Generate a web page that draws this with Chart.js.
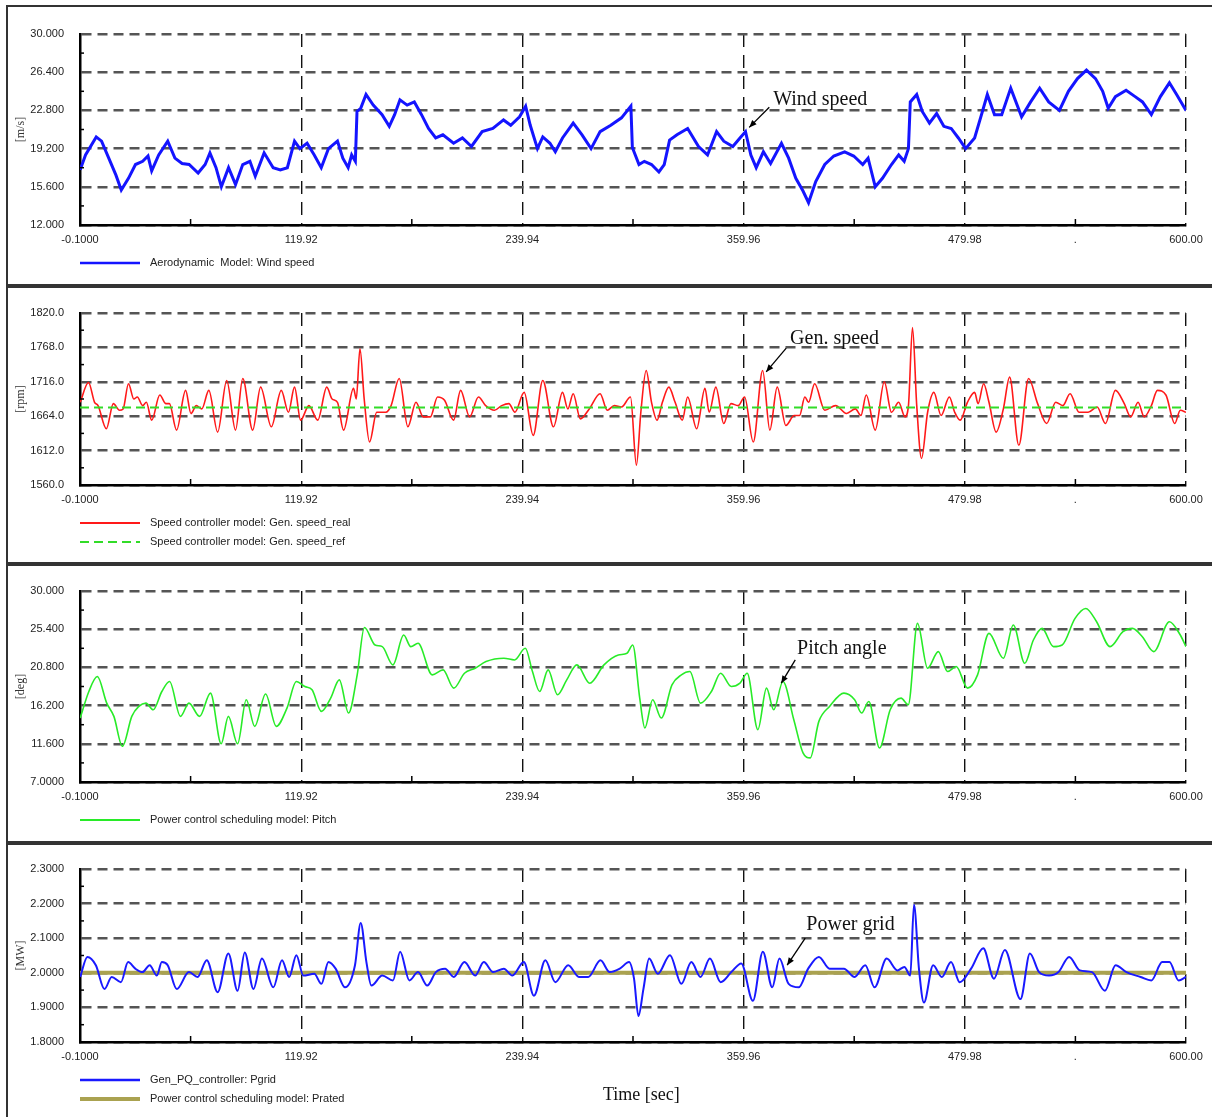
<!DOCTYPE html>
<html>
<head>
<meta charset="utf-8">
<title>Wind turbine simulation results</title>
<script src="https://cdn.jsdelivr.net/npm/chart.js@4.4.1/dist/chart.umd.min.js"></script>
<style>
    body { margin: 0; background: #fff; width: 1212px; height: 1117px; overflow: hidden; position: relative; }
    .panel { position: absolute; left: 6px; width: 1212px; border: 2px solid #333; box-sizing: border-box; }
    canvas { position: absolute; left: 0; }
    #timeLabel { position: absolute; left: 603px; top: 1084px; font: 18px 'Liberation Serif', 'Times New Roman', serif; color: #111; }
</style>
</head>
<body>
<div class="panel" style="top:5px;height:281px"></div>
<div class="panel" style="top:286px;height:278px"></div>
<div class="panel" style="top:564px;height:279px"></div>
<div class="panel" style="top:843px;height:280px"></div>

<canvas id="ChartWind" width="1212" height="285" style="top:0px"></canvas>
<canvas id="ChartGen" width="1212" height="276" style="top:287px"></canvas>
<canvas id="ChartPitch" width="1212" height="276" style="top:566px"></canvas>
<canvas id="ChartPower" width="1212" height="272" style="top:845px"></canvas>
<div id="timeLabel">Time [sec]</div>

<script>
// ---- data ----
const xTickValues = [-0.1, 119.92, 239.94, 359.96, 479.98, 539.99, 600];
const xTickLabels = ['-0.1000', '119.92', '239.94', '359.96', '479.98', '.', '600.00'];
const xMinorTicks = [59.91, 179.93, 299.95, 419.97, 539.99];

const windTicks = [12, 15.6, 19.2, 22.8, 26.4, 30];
const windTickLabels = ['12.000', '15.600', '19.200', '22.800', '26.400', '30.000'];
const genTicks = [1560, 1612, 1664, 1716, 1768, 1820];
const genTickLabels = ['1560.0', '1612.0', '1664.0', '1716.0', '1768.0', '1820.0'];
const pitchTicks = [7, 11.6, 16.2, 20.8, 25.4, 30];
const pitchTickLabels = ['7.0000', '11.600', '16.200', '20.800', '25.400', '30.000'];
const powerTicks = [1.8, 1.9, 2.0, 2.1, 2.2, 2.3];
const powerTickLabels = ['1.8000', '1.9000', '2.0000', '2.1000', '2.2000', '2.3000'];

const windTime = [
    0, 2.9, 8.7, 11.6, 15.5, 19.4, 22.3, 26.2, 30, 33.9,
    36.8, 38.8, 42.6, 47.5, 51.4, 55.3, 59.1, 64, 67.8, 70.4,
    73.7, 76.6, 80.5, 84.3, 88.2, 92.1, 95, 99.8, 104.7, 108.6,
    112.4, 116.3, 119.2, 123.1, 127, 130.8, 134.7, 139.6, 142.5, 145.4,
    147.3, 149.3, 150.2, 152.2, 155.1, 159, 163.8, 167.7, 170.6, 173.5,
    177.4, 181.3, 185.2, 189, 192.9, 196.8, 202.6, 207.4, 212.3, 218.1,
    223.9, 229.7, 233.6, 238.4, 241.7, 244.2, 248.1, 251, 254.9, 257.8,
    261.7, 267.5, 272.3, 277.2, 282.1, 287.9, 293.7, 298.8, 299.6, 303.2,
    306.1, 310, 314, 316.9, 319.8, 323.8, 329.6, 335.5, 340.4, 345.3,
    349.2, 354.1, 358, 361, 363.9, 366.8, 370.7, 374.6, 380.5, 384.4,
    388.3, 392.2, 395.2, 399.1, 404, 408.9, 414.8, 419.7, 424.6, 427.5,
    431.4, 435.3, 440.2, 444.1, 447.1, 449.4, 450.4, 453.9, 456.9, 460.8,
    464.7, 468.6, 472.6, 476.5, 480.4, 485.3, 489.2, 492.2, 496.1, 500,
    504.9, 510.8, 515.7, 520.6, 525.5, 531.3, 536.2, 541.1, 546, 550.9,
    554.8, 557.8, 561.7, 567.5, 572.4, 576.4, 581.2, 586.1, 591, 594.9,
    600
];
const windSpeed = [
    17.2, 18.6, 20.3, 19.9, 18.3, 16.7, 15.3, 16.4, 17.7, 18.0,
    18.5, 17.1, 18.6, 19.9, 18.3, 17.8, 17.7, 16.9, 17.7, 18.8,
    17.4, 15.6, 17.4, 15.8, 17.7, 18.0, 16.6, 18.8, 17.4, 17.2,
    17.4, 19.9, 19.2, 19.7, 18.6, 17.4, 19.2, 19.9, 18.3, 17.4,
    18.6, 18.0, 22.7, 23.0, 24.3, 23.3, 22.4, 21.3, 22.4, 23.8,
    23.3, 23.6, 22.4, 21.1, 20.2, 20.5, 19.7, 20.2, 19.4, 20.8,
    21.1, 21.9, 21.4, 22.2, 23.2, 21.4, 19.2, 20.3, 19.7, 18.9,
    20.2, 21.6, 20.5, 19.2, 20.8, 21.4, 22.1, 23.2, 19.3, 17.7,
    18.0, 17.7, 17.0, 17.7, 20.0, 20.5, 21.1, 19.4, 18.6, 20.8,
    19.9, 19.4, 20.2, 20.8, 18.6, 17.4, 18.9, 17.8, 19.7, 18.3,
    16.4, 15.2, 14.1, 16.1, 17.7, 18.5, 18.9, 18.5, 17.7, 18.3,
    15.6, 16.4, 17.7, 18.6, 18.0, 19.2, 23.6, 24.3, 22.7, 21.6,
    22.5, 21.3, 21.1, 20.2, 19.2, 20.2, 22.5, 24.3, 22.4, 22.4,
    24.9, 22.2, 23.6, 24.9, 23.6, 22.8, 24.6, 25.8, 26.6, 25.8,
    24.6, 23.0, 24.1, 24.7, 24.1, 23.6, 22.4, 24.1, 25.4, 24.3,
    22.8
];

const genTime = [
    0, 4.5, 7.8, 9.7, 14.2, 18, 21.3, 23.3, 26.2, 29.1,
    31, 33.9, 35.9, 38.8, 43.2, 46.5, 48.4, 52.3, 57.2, 60.1,
    63, 66, 69.8, 74.6, 79.5, 84.3, 88.2, 93.6, 97.9, 103.7,
    109.1, 113, 116.3, 119.6, 124.1, 128.9, 133.8, 136.7, 139.6, 142.9,
    148.3, 149.8, 151.8, 154.1, 157, 160.9, 165.8, 168.7, 173.1, 177.8,
    182.2, 186.1, 190, 193.9, 197.7, 202.6, 206.4, 211.3, 216.1, 220,
    224.8, 228.7, 232.6, 235.9, 240.9, 245.8, 251, 256.8, 261.7, 264.6,
    267.5, 271.4, 276.2, 282.1, 286, 289.8, 293.7, 298.6, 301.8, 304.2,
    307.1, 310, 313, 315.9, 319.4, 322.8, 326.7, 329.6, 334.5, 339,
    341.3, 344.9, 349.2, 353.1, 357, 360.5, 365.2, 370.3, 374.2, 378.2,
    382.9, 387.4, 390.3, 393.2, 395.2, 398.5, 404, 409.9, 415.8, 420.6,
    423.6, 426.5, 431.4, 436.3, 440.2, 444.1, 447.5, 449.4, 451.6, 453.9,
    456.5, 459.8, 463.2, 467.1, 471.6, 474.5, 477.5, 481.4, 485.3, 487.2,
    490.2, 493.1, 497, 500.9, 504.3, 509.3, 514.6, 519.5, 524.4, 529.3,
    533.2, 537.1, 542, 546.9, 551.8, 556.3, 561.7, 566.5, 570, 574,
    577.3, 581.2, 584.5, 589.1, 593.9, 596.9, 600
];
const genSpeedReal = [
    1685, 1715, 1685, 1680, 1645, 1683, 1673, 1675, 1713, 1690,
    1693, 1680, 1685, 1658, 1696, 1683, 1683, 1643, 1703, 1668,
    1680, 1675, 1703, 1640, 1718, 1643, 1721, 1643, 1708, 1648,
    1703, 1670, 1708, 1658, 1680, 1658, 1708, 1690, 1685, 1643,
    1706, 1690, 1766, 1690, 1625, 1670, 1670, 1680, 1721, 1648,
    1685, 1663, 1663, 1693, 1688, 1658, 1703, 1663, 1693, 1680,
    1673, 1680, 1683, 1670, 1700, 1635, 1718, 1648, 1700, 1675,
    1698, 1660, 1675, 1698, 1673, 1680, 1678, 1693, 1590, 1670,
    1733, 1685, 1658, 1685, 1708, 1685, 1658, 1693, 1645, 1706,
    1670, 1708, 1653, 1683, 1680, 1693, 1625, 1733, 1643, 1708,
    1650, 1665, 1665, 1693, 1685, 1713, 1673, 1680, 1668, 1675,
    1665, 1696, 1643, 1716, 1670, 1685, 1663, 1680, 1798, 1680,
    1600, 1670, 1700, 1665, 1693, 1670, 1658, 1685, 1700, 1683,
    1713, 1685, 1640, 1675, 1723, 1620, 1721, 1683, 1653, 1685,
    1680, 1698, 1670, 1670, 1678, 1653, 1703, 1683, 1663, 1685,
    1663, 1680, 1703, 1696, 1653, 1673, 1670
];
const refTime = [-0.1, 600];
const genSpeedRef = [1677, 1677];

const pitchTime = [
    0, 4.7, 9.3, 14.4, 18.3, 22.9, 28, 31.8, 35.7, 39.6,
    44.3, 48.5, 54.4, 59, 64.8, 70.7, 76.5, 80.4, 85.4, 90.1,
    94.7, 100.6, 106.4, 112.2, 117.3, 121.9, 125.8, 130.9, 135.9, 140.6,
    145.6, 150.3, 154.2, 160, 163.9, 169.7, 175.5, 179.4, 183.3, 191,
    196.9, 202.7, 208.5, 214.3, 220.2, 229.9, 235.7, 241.5, 245.4, 249.3,
    253.9, 259, 264, 269.5, 276.5, 284.2, 292, 296.7, 299.8, 303.6,
    306.4, 310.6, 315.3, 321.1, 326.2, 330.8, 336.6, 342.5, 347.5, 353.3,
    358, 361.9, 367.7, 372.4, 376.3, 381.3, 387.2, 392.2, 396.1, 400.8,
    406.6, 414.4, 420.2, 424, 427.9, 433.7, 439.5, 445.4, 449.3, 454.3,
    459.8, 465.6, 470.6, 475.3, 481.5, 486.9, 493.1, 500.9, 506.3, 512.5,
    517.2, 521.9, 528.1, 532.8, 539.8, 545.6, 551.5, 558.8, 565.8, 570.9,
    576.3, 582.5, 591, 596.9, 600
];
const pitchAngle = [
    14.7, 17.9, 19.7, 16.5, 14.9, 11.3, 14.9, 16.1, 16.5, 15.7,
    17.9, 19.1, 14.9, 16.5, 14.9, 17.7, 11.6, 14.9, 11.6, 16.9,
    13.7, 17.6, 13.7, 15.9, 19.1, 18.5, 18.1, 15.5, 17.1, 19.3,
    15.3, 19.9, 25.6, 23.5, 23.3, 21.1, 24.7, 23.3, 23.7, 19.9,
    20.5, 18.3, 20.1, 20.7, 21.5, 21.9, 21.7, 23.1, 20.3, 17.9,
    20.5, 17.5, 19.3, 21.1, 18.9, 21.1, 22.3, 22.5, 23.5, 17.1,
    13.5, 16.9, 14.7, 18.7, 19.9, 20.3, 16.5, 17.9, 20.1, 18.5,
    18.9, 20.1, 13.3, 18.3, 15.7, 19.1, 14.5, 10.5, 9.9, 14.3,
    16.1, 17.7, 16.9, 15.3, 16.7, 11.1, 15.7, 17.1, 16.3, 26.1,
    20.7, 22.7, 20.3, 20.9, 18.3, 19.9, 24.9, 21.9, 25.9, 21.3,
    24.1, 25.5, 23.3, 23.5, 26.7, 27.9, 26.3, 23.3, 25.1, 25.5,
    24.5, 22.7, 26.3, 24.7, 23.3
];

const powerTime = [
    0, 3.9, 8.5, 13.2, 17.1, 22.1, 26, 29.9, 33.8, 37.7,
    41.6, 44.3, 47.5, 52.4, 59, 63.7, 68.7, 74.6, 80.4, 85.4,
    89.3, 94, 98.6, 104.8, 109.5, 113.4, 117.3, 121.1, 127, 130.9,
    134.7, 138.6, 143.7, 149.1, 152.2, 155.3, 158, 163.9, 169.7, 173.6,
    178.6, 183.3, 188.3, 193, 198, 202.7, 208.5, 214.3, 219, 224,
    229.9, 234.5, 240.7, 246.2, 252.4, 257.8, 264.8, 270.6, 275.7, 282.3,
    287.3, 292.8, 297.8, 300.5, 302.9, 305.6, 308.7, 313.4, 320, 326.2,
    331.6, 336.6, 341.7, 347.5, 353.3, 358.7, 365, 370.4, 375.5, 379.4,
    384.4, 389.9, 395, 400.8, 406.6, 414.4, 420.2, 426, 431, 437.6,
    443.4, 447.2, 450.4, 452.4, 455.1, 457.8, 462.8, 467.5, 472.5, 477.2,
    483.4, 490, 495.8, 501.7, 510.2, 515.3, 520.3, 525.7, 530.8, 536.6,
    542.4, 549, 556, 561.8, 567.7, 575.4, 581.2, 587.1, 591, 596,
    600
];
const powerGrid = [
    1.988, 2.046, 2.022, 1.953, 1.988, 1.973, 2.031, 2.012, 2.002, 2.022,
    1.992, 2.031, 2.022, 1.953, 2.002, 1.988, 2.036, 1.944, 2.056, 1.948,
    2.059, 1.953, 2.041, 1.958, 2.036, 1.988, 2.051, 1.992, 1.997, 1.968,
    2.031, 2.012, 1.958, 2.022, 2.144, 2.031, 1.963, 1.992, 1.978, 2.061,
    1.978, 2.002, 1.963, 2.002, 2.012, 1.988, 2.031, 1.992, 2.031, 2.002,
    2.012, 1.992, 2.031, 1.934, 2.036, 1.973, 2.022, 1.988, 1.988, 2.036,
    2.002, 2.012, 2.031, 1.983, 1.875, 1.953, 2.041, 1.997, 2.051, 1.968,
    2.031, 1.988, 2.041, 1.973, 2.002, 2.027, 1.919, 2.061, 1.958, 2.041,
    1.968, 1.958, 2.012, 2.046, 2.012, 2.012, 1.988, 2.022, 1.958, 2.041,
    2.007, 2.017, 1.992, 2.197, 2.012, 1.914, 2.022, 1.988, 2.031, 1.973,
    2.012, 2.071, 1.983, 2.066, 1.924, 2.056, 2.002, 1.992, 2.002, 2.046,
    2.007, 2.002, 1.948, 2.022, 2.002, 1.988, 1.978, 2.031, 2.031, 1.978,
    1.988
];
const pRated = [2.0, 2.0];

// ---- drawing ----
Chart.defaults.font.family = "'Liberation Sans', Arial, sans-serif";
Chart.defaults.font.size = 11;
Chart.defaults.color = '#222';

function points(times, values) {
    return times.map((t, i) => ({x: t, y: values[i]}));
}

function midpoints(ticks) {
    let mids = [];
    for (let i = 0; i < ticks.length - 1; i++) mids.push((ticks[i] + ticks[i + 1]) / 2);
    return mids;
}

// inner minor ticks, legend rows and the arrow callout
const panelDecor = {
    id: 'panelDecor',
    afterDraw(chart, args, opts) {
        const {ctx, chartArea: area, scales: {x, y}} = chart;
        ctx.save();
        ctx.strokeStyle = '#000';
        ctx.lineWidth = 1.5;
        ctx.setLineDash([]);
        opts.yMinor.forEach(v => {
            const py = y.getPixelForValue(v);
            ctx.beginPath();
            ctx.moveTo(area.left, py);
            ctx.lineTo(area.left + 4, py);
            ctx.stroke();
        });
        xMinorTicks.forEach(v => {
            const px = x.getPixelForValue(v);
            ctx.beginPath();
            ctx.moveTo(px, area.bottom);
            ctx.lineTo(px, area.bottom - 6);
            ctx.stroke();
        });

        ctx.font = "11px 'Liberation Sans', Arial, sans-serif";
        ctx.textBaseline = 'middle';
        ctx.textAlign = 'left';
        chart.data.datasets.forEach((ds, i) => {
            const ly = area.bottom + 38 + i * 19;
            ctx.strokeStyle = ds.borderColor;
            ctx.lineWidth = ds.legendWidth || 2;
            ctx.setLineDash(ds.borderDash || []);
            ctx.beginPath();
            ctx.moveTo(area.left, ly);
            ctx.lineTo(area.left + 60, ly);
            ctx.stroke();
            ctx.fillStyle = '#222';
            ctx.fillText(ds.label, area.left + 70, ly);
        });

        const n = opts.note;
        if (n) {
            const sx = x.getPixelForValue(n.from[0]), sy = y.getPixelForValue(n.from[1]);
            const tx = x.getPixelForValue(n.tip[0]), ty = y.getPixelForValue(n.tip[1]);
            ctx.setLineDash([]);
            ctx.strokeStyle = '#000';
            ctx.fillStyle = '#000';
            ctx.lineWidth = 1.3;
            ctx.beginPath();
            ctx.moveTo(sx, sy);
            ctx.lineTo(tx, ty);
            ctx.stroke();
            const ang = Math.atan2(ty - sy, tx - sx);
            ctx.beginPath();
            ctx.moveTo(tx, ty);
            ctx.lineTo(tx - 8 * Math.cos(ang - 0.4), ty - 8 * Math.sin(ang - 0.4));
            ctx.lineTo(tx - 8 * Math.cos(ang + 0.4), ty - 8 * Math.sin(ang + 0.4));
            ctx.closePath();
            ctx.fill();
            ctx.font = "20px 'Liberation Serif', 'Times New Roman', serif";
            ctx.fillStyle = '#111';
            ctx.fillText(n.text, x.getPixelForValue(n.at[0]), y.getPixelForValue(n.at[1]));
        }
        ctx.restore();
    }
};

function makePanel(canvasId, cfg) {
    const canvas = document.getElementById(canvasId);
    return new Chart(canvas, {
        type: 'line',
        data: {datasets: cfg.datasets},
        options: {
            responsive: false,
            animation: false,
            events: [],
            layout: {padding: {top: cfg.padTop, bottom: cfg.padBottom, left: 0, right: 26}},
            elements: {point: {radius: 0}},
            plugins: {
                legend: {display: false},
                tooltip: {enabled: false},
                panelDecor: {yMinor: midpoints(cfg.yTicks), note: cfg.note}
            },
            scales: {
                x: {
                    type: 'linear',
                    min: -0.1,
                    max: 600,
                    afterBuildTicks: s => { s.ticks = xTickValues.map(v => ({value: v})); },
                    afterFit: s => { s.height = 22; },
                    ticks: {
                        autoSkip: false,
                        maxRotation: 0,
                        padding: 8,
                        color: '#222',
                        callback: (v, i) => xTickLabels[i]
                    },
                    grid: {
                        drawTicks: false,
                        lineWidth: 1.4,
                        color: c => (c.tick && c.tick.value === 539.99) ? 'rgba(0,0,0,0)' : '#111'
                    },
                    border: {display: true, color: '#000', width: 2.5, dash: [13, 8]}
                },
                y: {
                    type: 'linear',
                    min: cfg.yTicks[0],
                    max: cfg.yTicks[cfg.yTicks.length - 1],
                    afterBuildTicks: s => { s.ticks = cfg.yTicks.map(v => ({value: v})); },
                    afterFit: s => { s.width = 80; },
                    ticks: {
                        padding: 16,
                        color: '#222',
                        callback: (v, i) => cfg.yTickLabels[i]
                    },
                    grid: {drawTicks: false, lineWidth: 2.5, color: '#555'},
                    border: {display: true, color: '#000', width: 2.5, dash: [10, 6]},
                    title: {
                        display: true,
                        text: cfg.yTitle,
                        color: '#333',
                        padding: {top: 14, bottom: 0},
                        font: {family: "'Liberation Serif', 'Times New Roman', serif", size: 12}
                    }
                }
            }
        },
        plugins: [panelDecor]
    });
}

makePanel('ChartWind', {
    padTop: 34, padBottom: 38,
    yTicks: windTicks, yTickLabels: windTickLabels, yTitle: '[m/s]',
    note: {text: 'Wind speed', at: [376, 23.8], from: [373.9, 23.1], tip: [363, 21.2]},
    datasets: [{
        label: 'Aerodynamic  Model: Wind speed',
        data: points(windTime, windSpeed),
        borderColor: 'rgb(20, 20, 255)',
        borderWidth: 3,
        legendWidth: 2.5,
        tension: 0
    }]
});

makePanel('ChartGen', {
    padTop: 26, padBottom: 56,
    yTicks: genTicks, yTickLabels: genTickLabels, yTitle: '[rpm]',
    note: {text: 'Gen. speed', at: [385.2, 1781], from: [383.1, 1767], tip: [372.2, 1731]},
    datasets: [{
        label: 'Speed controller model: Gen. speed_real',
        data: points(genTime, genSpeedReal),
        borderColor: 'rgb(255, 25, 25)',
        borderWidth: 1.6,
        legendWidth: 2,
        cubicInterpolationMode: 'monotone',
        order: 1
    }, {
        label: 'Speed controller model: Gen. speed_ref',
        data: points(refTime, genSpeedRef),
        borderColor: 'rgb(50, 220, 40)',
        borderWidth: 2,
        borderDash: [9, 5],
        legendWidth: 2,
        order: 0
    }]
});

makePanel('ChartPitch', {
    padTop: 25, padBottom: 38,
    yTicks: pitchTicks, yTickLabels: pitchTickLabels, yTitle: '[deg]',
    note: {text: 'Pitch angle', at: [389, 23.0], from: [388, 21.7], tip: [380.4, 18.9]},
    datasets: [{
        label: 'Power control scheduling model: Pitch',
        data: points(pitchTime, pitchAngle),
        borderColor: 'rgb(40, 235, 40)',
        borderWidth: 1.6,
        legendWidth: 2,
        cubicInterpolationMode: 'monotone'
    }]
});

makePanel('ChartPower', {
    padTop: 24, padBottom: 53,
    yTicks: powerTicks, yTickLabels: powerTickLabels, yTitle: '[MW]',
    note: {text: 'Power grid', at: [394, 2.138], from: [393.4, 2.10], tip: [383.6, 2.022]},
    datasets: [{
        label: 'Gen_PQ_controller: Pgrid',
        data: points(powerTime, powerGrid),
        borderColor: 'rgb(25, 25, 255)',
        borderWidth: 2,
        legendWidth: 2.5,
        cubicInterpolationMode: 'monotone',
        order: 0
    }, {
        label: 'Power control scheduling model: Prated',
        data: points(refTime, pRated),
        borderColor: 'rgb(170, 162, 80)',
        borderWidth: 4,
        legendWidth: 4,
        order: 1
    }]
});
</script>
</body>
</html>
